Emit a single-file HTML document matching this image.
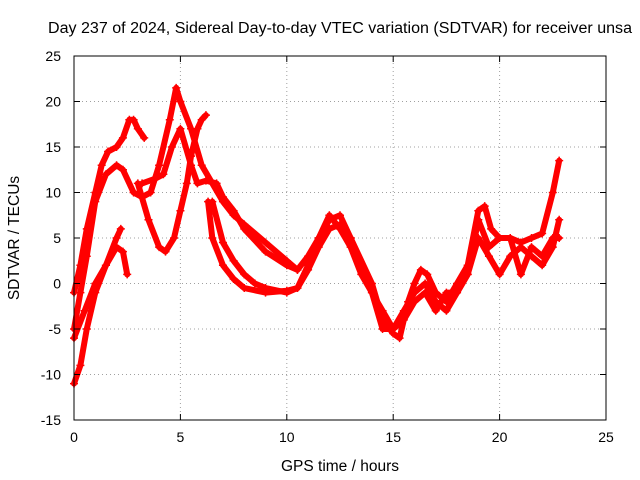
<!DOCTYPE html>
<html><head><meta charset="utf-8"><style>
body{margin:0;background:#fff;}
svg{display:block;font-family:"Liberation Sans",sans-serif;}
</style></head><body>
<svg id="chart" width="640" height="480">
<text x="48" y="33" font-size="15.5" textLength="584" lengthAdjust="spacingAndGlyphs">Day 237 of 2024, Sidereal Day-to-day VTEC variation (SDTVAR) for receiver unsa</text>
<text x="340" y="471" font-size="15.5" text-anchor="middle">GPS time / hours</text>
<text x="19" y="238" font-size="15.5" text-anchor="middle" transform="rotate(-90 19 238)">SDTVAR / TECUs</text>
<g id="grid"></g><g id="marks"></g><g id="axes"></g>
</svg>
<script>
const xTicks=[0,5,10,15,20,25];
const yTicks=[-15,-10,-5,0,5,10,15,20,25];
const s1x=[0,0.3,0.6,1,1.3,1.6,2,2.3,2.6,2.8,3,3.3];
const s1y=[-1,2,6,10,13,14.5,15,16,18,18,17,16];
const s2x=[0,0.3,0.6,1,1.5,2,2.3,2.8,3.2,3.6,4,4.5,4.8,5,5.5,6,6.5,7,7.5,8,9,10,10.5];
const s2y=[-5,-1,3,9,12,13,12.5,10,9.5,10,13,18,21.5,20,17,13,11,9,7.5,6.5,4.5,2.5,1.5];
const s3x=[0,0.3,0.6,1,1.5,2,2.3,2.5];
const s3y=[-11,-9,-5,-1,2,4,3.5,1];
const s4x=[0,0.5,1,1.5,2,2.2];
const s4y=[-6,-3,0,2,5,6];
const s5x=[3,3.5,4,4.3,4.7,5,5.3,5.5,5.8,6,6.2];
const s5y=[11,7,4,3.5,5,8,11,14,17,18,18.5];
const s6x=[3.2,3.8,4.2,4.6,5,5.5,5.8,6.2,6.7,7,7.5,8,9,10,10.5,11,11.5,12,12.5,13,14,14.5,15,15.3,15.7,16,16.3,16.6,17,17.5,18,18.5,19,19.3,19.6,20,20.5,21,21.5,22,22.5,22.8];
const s6y=[11,11.5,12,15,17,13,11,11.3,11,9.5,8,6,3.5,2,1.5,3,5,7,7.5,5,0,-4,-5.5,-6,-2,0,1.5,1,-1,-2,0,2,8,8.5,6,5,5,4.5,5,5.5,10,13.5];
const s7x=[6.5,7,7.5,8,8.5,9,10,10.5,11,11.5,12,12.5,13,13.5,14,14.5,15,15.5,16,16.5,17,17.5,18,18.5,19,19.5,20,20.5,21,21.5,22,22.5,22.8];
const s7y=[9,4.5,2.5,1,0,-0.5,-1,-0.5,1.5,4,6,6.5,5,2,-1,-3,-5,-3,-1,0,-2,-3,-1,1,5,3,1,3,4,3,2,4,7];
const s8x=[6.3,6.5,7,7.5,8,9,10,10.5,11,11.5,12,12.5,13,13.5,14,14.5,15,15.5,16,16.5,17,17.5,18,18.5,19,19.5,20,20.5,21,21.5,22,22.5,22.8];
const s8y=[9,5,2,0.5,-0.5,-1,-0.8,-0.5,2,5,7.5,6,4,1,-1,-5,-5,-4,-2,-1,-3,-1,-1,1,7,4,5,5,1,4,3,5,5];
const series=[[s1x,s1y],[s2x,s2y],[s3x,s3y],[s4x,s4y],[s5x,s5y],[s6x,s6y],[s7x,s7y],[s8x,s8y]];
const X0=74,X1=606,Y0=420,Y1=56;
function xs(v){return X0+(v-0)/(25-0)*(X1-X0);}
function ys(v){return Y0-(v+15)/(40)*(Y0-Y1);}
const NS="http://www.w3.org/2000/svg";
function mk(t,a,p){const e=document.createElementNS(NS,t);for(const k in a)e.setAttribute(k,a[k]);p.appendChild(e);return e;}
const grid=document.getElementById('grid'),axes=document.getElementById('axes'),marks=document.getElementById('marks');
xTicks.forEach(t=>{const x=xs(t);
 if(t>0&&t<25){const l=mk('line',{x1:x,x2:x,y1:Y0,y2:Y1,stroke:'#a0a0a0','stroke-dasharray':'1,3'},grid);
 
 }
 mk('line',{x1:x,x2:x,y1:Y0,y2:Y0-6,stroke:'#000'},axes);
 mk('line',{x1:x,x2:x,y1:Y1,y2:Y1+6,stroke:'#000'},axes);
 const tx=mk('text',{x:x,y:Y0+22,'font-size':14,'text-anchor':'middle'},axes);tx.textContent=t;
 
 });
yTicks.forEach(t=>{const y=ys(t);
 if(t>-15&&t<25){const l=mk('line',{x1:X0,x2:X1,y1:y,y2:y,stroke:'#a0a0a0','stroke-dasharray':'1,3'},grid);
 
 }
 mk('line',{x1:X0,x2:X0+6,y1:y,y2:y,stroke:'#000'},axes);
 mk('line',{x1:X1,x2:X1-6,y1:y,y2:y,stroke:'#000'},axes);
 const tx=mk('text',{x:X0-13,y:y+5,'font-size':14,'text-anchor':'end'},axes);tx.textContent=t;
 
 });
const fr=mk('rect',{x:X0,y:Y1,width:X1-X0,height:Y0-Y1,fill:'none',stroke:'#000'},axes);


series.forEach((s,i)=>{const pts=s[0].map((h,j)=>xs(h)+','+ys(s[1][j])).join(' ');
 const pl=mk('polyline',{points:pts,fill:'none',stroke:'#f00','stroke-width':6,'stroke-linejoin':'round','stroke-linecap':'round'},marks);
 
 
 s[0].forEach((h,j)=>{const x=xs(h),y=ys(s[1][j]);
  const p=mk('path',{d:`M${x-4},${y}H${x+4}M${x},${y-4}V${y+4}`,stroke:'#f00','stroke-width':1.5},marks);
  
  });});
</script>
</body></html>
